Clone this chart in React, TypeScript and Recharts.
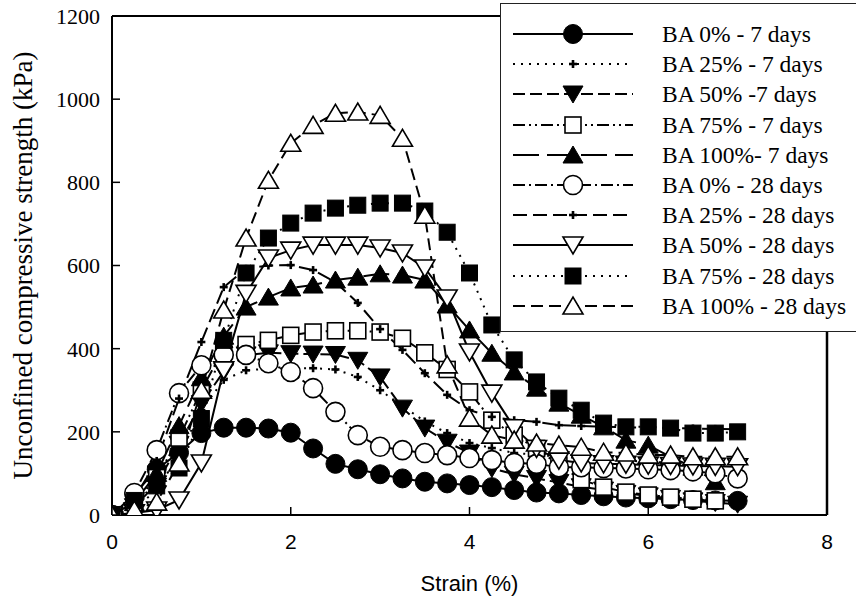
import React from 'react';
import { LineChart, Line, XAxis, YAxis, ReferenceLine, Legend } from 'recharts';

const STRAIN = [0, 0.25, 0.5, 0.75, 1, 1.25, 1.5, 1.75, 2, 2.25, 2.5, 2.75, 3, 3.25, 3.5, 3.75, 4, 4.25, 4.5, 4.75, 5, 5.25, 5.5, 5.75, 6, 6.25, 6.5, 6.75, 7];

const BA0_7 = [0, 50, 110, 150, 197, 210, 210, 208, 198, 160, 123, 110, 98, 88, 80, 76, 72, 67, 60, 54, 52, 48, 45, 42, 40, 38, 36, 35, 34];
const BA25_7 = [0, 15, 60, 145, 252, 325, 348, 352, 353, 353, 350, 332, 300, 262, 225, 197, 173, 161, 149, 145, 140, 137, 134, 131, 128, 126, 124, 122, 120];
const BA50_7 = [0, 20, 75, 170, 268, 345, 385, 390, 388, 387, 386, 372, 332, 257, 209, 175, 149, 112, 98, 88, 78, 68, 60, 52, 46, 40, 34, 30, 26];
const BA75_7 = [0, 30, 90, 185, 300, 400, 410, 420, 432, 440, 443, 443, 440, 425, 390, 350, 296, 228, 192, 160, 120, 85, 67, 55, 48, 43, 38, 34, null];
const BA100_7 = [0, 30, 100, 215, 330, 430, 500, 524, 546, 553, 565, 572, 580, 577, 565, 505, 445, 389, 344, 305, 269, 240, 212, 180, 168, 140, 115, 80, null];
const BA0_28 = [0, 53, 156, 293, 360, 385, 385, 365, 344, 305, 248, 192, 164, 156, 149, 144, 137, 132, 125, 123, 115, 115, 113, 112, 110, 108, 105, 100, 88];
const BA25_28 = [0, 40, 130, 280, 416, 548, 592, 600, 601, 589, 560, 510, 447, 397, 341, 289, 252, 236, 228, 224, 216, 214, 212, 211, 210, 209, 208, 207, 206];
const BA50_28 = [0, 5, 12, 36, 125, 349, 533, 618, 637, 649, 649, 649, 642, 630, 594, 522, 392, 293, 210, 160, 132, 125, 123, 122, 120, 119, 118, 117, 116];
const BA75_28 = [0, 35, 70, 113, 232, 420, 582, 666, 702, 726, 738, 745, 750, 750, 731, 680, 582, 457, 373, 320, 281, 252, 221, 212, 212, 209, 197, 197, 200];
const BA100_28 = [0, 12, 31, 125, 300, 493, 666, 805, 894, 937, 966, 969, 961, 906, 721, 361, 233, 192, 180, 173, 168, 163, 151, 149, 144, 144, 140, 140, 140];

const X_TICKS = [0, 2, 4, 6, 8];
const Y_TICKS = [0, 200, 400, 600, 800, 1000, 1200];

const SERIES = [
  { key: 'ba0_7', name: 'BA 0% - 7 days', values: BA0_7, dash: undefined, marker: 'circleFilled' },
  { key: 'ba25_7', name: 'BA 25% - 7 days', values: BA25_7, dash: '2 6', marker: 'plus' },
  { key: 'ba50_7', name: 'BA 50% -7 days', values: BA50_7, dash: '12 5', marker: 'triDownFilled' },
  { key: 'ba75_7', name: 'BA 75% - 7 days', values: BA75_7, dash: '12 4 2 4 2 4', marker: 'squareOpen' },
  { key: 'ba100_7', name: 'BA 100%- 7 days', values: BA100_7, dash: '26 8', marker: 'triUpFilled' },
  { key: 'ba0_28', name: 'BA 0% - 28 days', values: BA0_28, dash: '12 4 2 4', marker: 'circleOpen' },
  { key: 'ba25_28', name: 'BA 25% - 28 days', values: BA25_28, dash: '14 6', marker: 'plus' },
  { key: 'ba50_28', name: 'BA 50% - 28 days', values: BA50_28, dash: undefined, marker: 'triDownOpen' },
  { key: 'ba75_28', name: 'BA 75% - 28 days', values: BA75_28, dash: '2 6', marker: 'squareFilled' },
  { key: 'ba100_28', name: 'BA 100% - 28 days', values: BA100_28, dash: '12 6', marker: 'triUpOpen' },
];

const DATA = STRAIN.map((s, i) => {
  const row: any = { strain: s };
  SERIES.forEach((ser) => {
    row[ser.key] = ser.values[i];
  });
  return row;
});

function Marker({ kind, cx, cy }: { kind: string; cx: number; cy: number }) {
  const sw = 1.6;
  switch (kind) {
    case 'circleFilled':
      return <circle cx={cx} cy={cy} r={9.5} fill="#000" stroke="#000" strokeWidth={1} />;
    case 'circleOpen':
      return <circle cx={cx} cy={cy} r={9.5} fill="#fff" stroke="#000" strokeWidth={sw} />;
    case 'plus':
      return (
        <g stroke="#000" strokeWidth={2.6}>
          <line x1={cx - 4} y1={cy} x2={cx + 4} y2={cy} />
          <line x1={cx} y1={cy - 4} x2={cx} y2={cy + 4} />
        </g>
      );
    case 'triDownFilled':
      return <polygon points={`${cx - 10},${cy - 8} ${cx + 10},${cy - 8} ${cx},${cy + 9}`} fill="#000" stroke="#000" strokeWidth={1} />;
    case 'triDownOpen':
      return <polygon points={`${cx - 10},${cy - 8} ${cx + 10},${cy - 8} ${cx},${cy + 9}`} fill="#fff" stroke="#000" strokeWidth={sw} />;
    case 'triUpFilled':
      return <polygon points={`${cx - 10},${cy + 8} ${cx + 10},${cy + 8} ${cx},${cy - 9}`} fill="#000" stroke="#000" strokeWidth={1} />;
    case 'triUpOpen':
      return <polygon points={`${cx - 10},${cy + 8} ${cx + 10},${cy + 8} ${cx},${cy - 9}`} fill="#fff" stroke="#000" strokeWidth={sw} />;
    case 'squareOpen':
      return <rect x={cx - 8} y={cy - 8} width={16} height={16} fill="#fff" stroke="#000" strokeWidth={sw} />;
    case 'squareFilled':
      return <rect x={cx - 8} y={cy - 8} width={16} height={16} fill="#000" stroke="#000" strokeWidth={1} />;
    default:
      return null;
  }
}

const XTick = (props: any) => {
  const { x, y, payload } = props;
  return (
    <g key={`xt-${payload.value}`}>
      <line x1={x} y1={y} x2={x} y2={y - 8} stroke="#000" strokeWidth={1.5} />
      <text x={x} y={y + 34} textAnchor="middle" fontFamily="'Liberation Sans', Arial, sans-serif" fontSize={21} fill="#000">
        {payload.value}
      </text>
    </g>
  );
};

const YTick = (props: any) => {
  const { x, y, payload } = props;
  return (
    <g key={`yt-${payload.value}`}>
      <line x1={x} y1={y} x2={x + 8} y2={y} stroke="#000" strokeWidth={1.5} />
      <text x={x - 12} y={y} dy="0.36em" textAnchor="end" fontFamily="'Liberation Serif', 'Times New Roman', serif" fontSize={22} fill="#000">
        {payload.value}
      </text>
    </g>
  );
};

const LegendContent = () => (
  <div
    style={{
      width: 370,
      height: 329,
      boxSizing: 'border-box',
      border: '1.5px solid #222',
      background: '#fff',
      paddingTop: 15,
    }}
  >
    {SERIES.map((s) => (
      <div key={s.key} style={{ height: 30.2, display: 'flex', alignItems: 'center' }}>
        <svg width={120} height={30} style={{ marginLeft: 12, flex: 'none' }}>
          <line x1={0} y1={15} x2={120} y2={15} stroke="#000" strokeWidth={2.2} strokeDasharray={s.dash} />
          <Marker kind={s.marker} cx={60} cy={15} />
        </svg>
        <span
          style={{
            marginLeft: 29,
            fontFamily: "'Liberation Serif', 'Times New Roman', serif",
            fontSize: 23.5,
            color: '#000',
            whiteSpace: 'pre',
            lineHeight: '30px',
          }}
        >
          {s.name}
        </span>
      </div>
    ))}
  </div>
);

export default function App() {
  return (
    <div style={{ position: 'absolute', left: 0, top: 0, width: 856, height: 600, overflow: 'hidden', background: '#fff' }}>
      <LineChart width={856} height={600} data={DATA} margin={{ top: 16, right: 29, left: 0, bottom: 0 }}>
        <XAxis
          dataKey="strain"
          type="number"
          domain={[0, 8]}
          ticks={X_TICKS}
          tickSize={0}
          tickMargin={0}
          tickLine={false}
          axisLine={{ stroke: '#000', strokeWidth: 2 }}
          tick={XTick}
          height={85}
          allowDataOverflow
          label={(p: any) => {
            const vb = p.viewBox || {};
            const cx = (vb.x ?? 112) + (vb.width ?? 716) / 2;
            return (
              <text x={cx} y={591} textAnchor="middle" fontFamily="'Liberation Sans', Arial, sans-serif" fontSize={22} fill="#000">
                Strain (%)
              </text>
            );
          }}
        />
        <YAxis
          type="number"
          domain={[0, 1200]}
          ticks={Y_TICKS}
          tickSize={0}
          tickMargin={0}
          tickLine={false}
          axisLine={{ stroke: '#000', strokeWidth: 2 }}
          tick={YTick}
          width={112}
          allowDataOverflow
          label={(p: any) => {
            const vb = p.viewBox || {};
            const cy = (vb.y ?? 16) + (vb.height ?? 499) / 2;
            return (
              <text
                x={23}
                y={cy}
                transform={`rotate(-90, 23, ${cy})`}
                textAnchor="middle"
                dominantBaseline="central"
                fontFamily="'Liberation Serif', 'Times New Roman', serif"
                fontSize={27}
                fill="#000"
              >
                Unconfined compressive strength (kPa)
              </text>
            );
          }}
        />
        <ReferenceLine y={1200} stroke="#000" strokeWidth={2} />
        <ReferenceLine x={8} stroke="#000" strokeWidth={2.5} />
        {SERIES.map((s) => (
          <Line
            key={s.key}
            dataKey={s.key}
            name={s.name}
            type="linear"
            stroke="#000"
            strokeWidth={2}
            strokeDasharray={s.dash}
            isAnimationActive={false}
            connectNulls={false}
            dot={(p: any) => (
              p.cy == null || p.value == null ? <g key={`${s.key}-${p.index}`} /> :
              <g key={`${s.key}-${p.index}`}>
                <Marker kind={s.marker} cx={p.cx} cy={p.cy} />
              </g>
            )}
            activeDot={false}
          />
        ))}
        <Legend
          layout="vertical"
          align="center"
          verticalAlign="middle"
          wrapperStyle={{ left: 500, top: 3, width: 370, height: 329 }}
          content={LegendContent}
        />
      </LineChart>
    </div>
  );
}
